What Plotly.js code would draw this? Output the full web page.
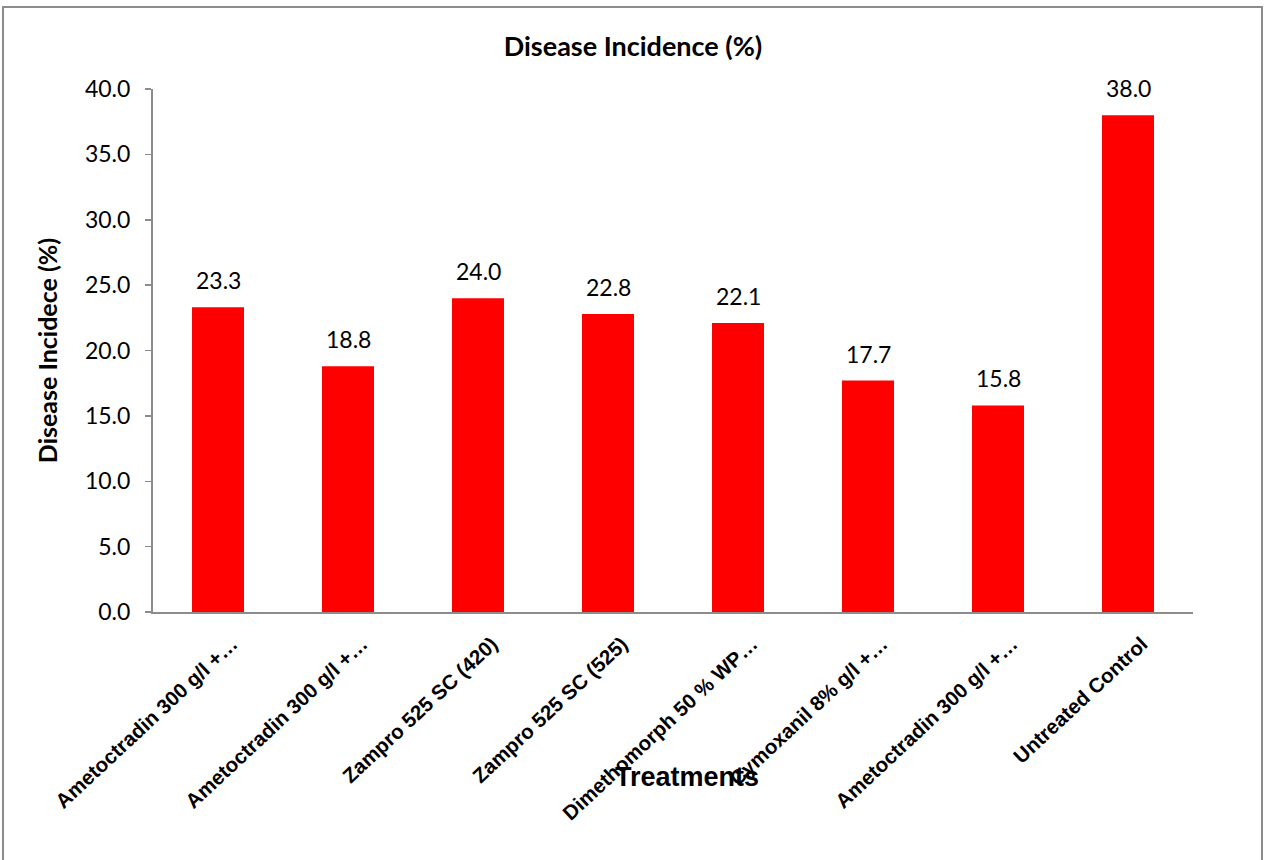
<!DOCTYPE html>
<html>
<head>
<meta charset="utf-8">
<script src="https://cdn.plot.ly/plotly-3.0.1.min.js"></script>
<style>
  html, body { margin: 0; padding: 0; background: #fff; }
  #chart { width: 1267px; height: 860px; }
</style>
</head>
<body>
<div id="chart"></div>
<script>
// ---- data ----
const tickLabels = [
  "Ametoctradin 300 g/l +…",
  "Ametoctradin 300 g/l +…",
  "Zampro 525 SC (420)",
  "Zampro 525 SC (525)",
  "Dimethomorph 50 % WP…",
  "Cymoxanil 8% g/l +…",
  "Ametoctradin 300 g/l +…",
  "Untreated Control"
];
const positions = [0, 1, 2, 3, 4, 5, 6, 7];
const incidence = [23.3, 18.8, 24.0, 22.8, 22.1, 17.7, 15.8, 38.0];
const yTicks = [0, 5, 10, 15, 20, 25, 30, 35, 40];

const trace = {
  type: 'bar',
  x: positions,
  y: incidence,
  marker: { color: '#ff0000' },
  hoverinfo: 'x+y'
};

const valueLabels = positions.map((p, i) => ({
  x: p, y: incidence[i], xref: 'x', yref: 'y',
  text: incidence[i].toFixed(1),
  showarrow: false, yanchor: 'bottom', yshift: 11,
  font: { family: 'Lato, sans-serif', size: 23, color: '#000' }
}));

const layout = {
  width: 1267, height: 860,
  paper_bgcolor: '#fff', plot_bgcolor: '#fff',
  margin: { l: 153, r: 74, t: 89, b: 248 },
  bargap: 0.6,
  showlegend: false,
  title: {
    text: '<b>Disease Incidence (%)</b>',
    font: { family: 'Lato, sans-serif', size: 27, color: '#000' },
    x: 633 / 1267, xref: 'container', xanchor: 'center',
    y: 1 - 47 / 860, yref: 'container', yanchor: 'middle'
  },
  xaxis: {
    range: [-0.5, 7.5],
    tickmode: 'array', tickvals: positions, ticktext: tickLabels,
    tickangle: -43,
    ticklabelshift: 14, ticklabelstandoff: 10,
    ticks: '', showgrid: false, zeroline: false,
    showline: true, linecolor: '#8c8c8c', linewidth: 2,
    tickfont: { family: '"Liberation Sans", Arial, sans-serif', size: 20.5, color: '#000', weight: 'bold' },
    fixedrange: true
  },
  yaxis: {
    range: [0, 40],
    tickmode: 'array', tickvals: yTicks,
    tickformat: '.1f',
    ticks: 'outside', ticklen: 6, tickcolor: '#8c8c8c', tickwidth: 1.5,
    ticklabelstandoff: 10,
    showgrid: false, zeroline: false,
    showline: true, linecolor: '#8c8c8c', linewidth: 2,
    tickfont: { family: 'Lato, sans-serif', size: 23, color: '#000' },
    title: {
      text: '<b>Disease Incidece (%)</b>',
      font: { family: 'Lato, sans-serif', size: 25, color: '#000' },
      standoff: 20
    },
    fixedrange: true
  },
  annotations: valueLabels.concat([{
    text: '<b>Treatments</b>',
    xref: 'paper', yref: 'paper',
    x: (687 - 153) / 1040, y: (612 - 777) / 523,
    xanchor: 'center', yanchor: 'middle', showarrow: false,
    font: { family: '"Liberation Sans", Arial, sans-serif', size: 27, color: '#000' }
  }]),
  shapes: [{
    type: 'rect', xref: 'paper', yref: 'paper',
    x0: (3 - 153) / 1040, x1: (1262 - 153) / 1040,
    y0: (612 - 864) / 523, y1: (612 - 7) / 523,
    line: { color: '#8c8c8c', width: 2 }, fillcolor: 'rgba(0,0,0,0)', layer: 'below'
  }]
};

Plotly.newPlot('chart', [trace], layout, { displayModeBar: false, staticPlot: true });
</script>
</body>
</html>
